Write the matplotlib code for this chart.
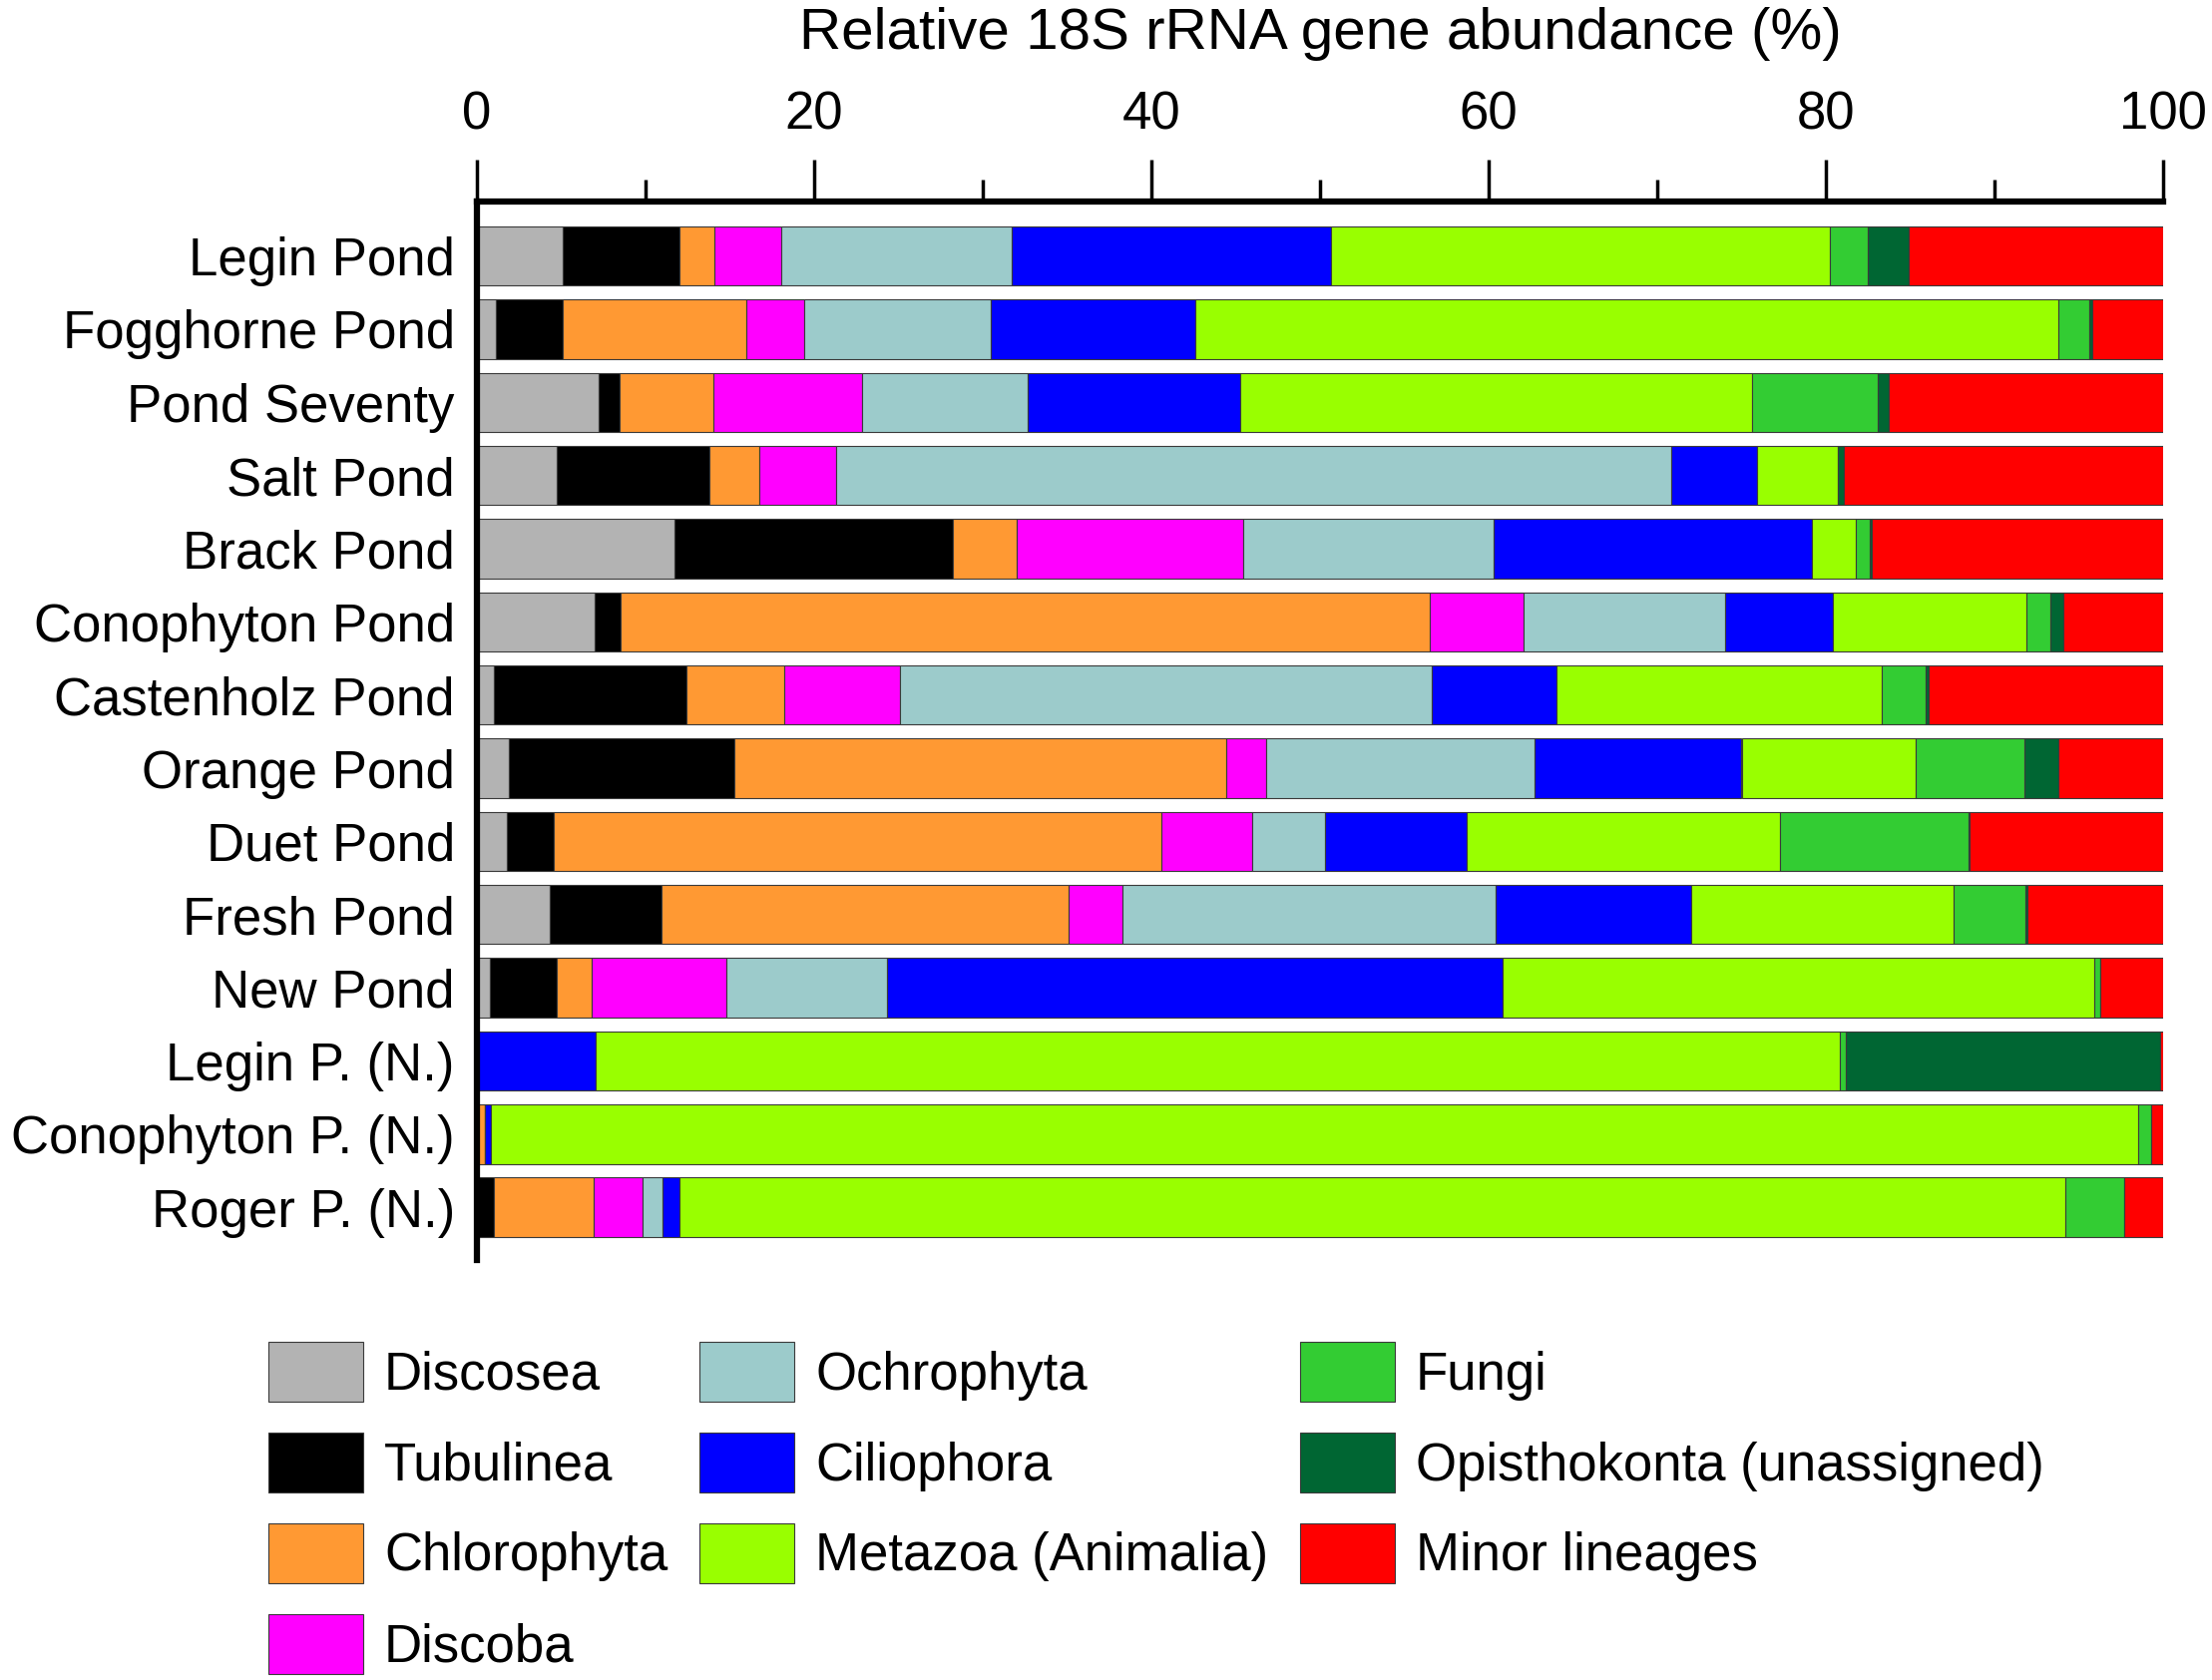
import matplotlib
matplotlib.use("Agg")
import matplotlib.pyplot as plt
import numpy as np

plt.rcParams['font.family'] = ['Liberation Sans', 'DejaVu Sans']

ponds = ["Legin Pond", "Fogghorne Pond", "Pond Seventy", "Salt Pond", "Brack Pond",
         "Conophyton Pond", "Castenholz Pond", "Orange Pond", "Duet Pond", "Fresh Pond",
         "New Pond", "Legin P. (N.)", "Conophyton P. (N.)", "Roger P. (N.)"]

taxa = ["Discosea", "Tubulinea", "Chlorophyta", "Discoba", "Ochrophyta", "Ciliophora",
        "Metazoa (Animalia)", "Fungi", "Opisthokonta (unassigned)", "Minor lineages"]

colors = ["#B3B3B3", "#000000", "#FF9933", "#FF00FF", "#9CCBCB", "#0000FF",
          "#99FF00", "#33CC33", "#006633", "#FF0000"]

# one list per taxon, values in the order of `ponds`
discosea    = [5.10, 1.15, 7.20, 4.75, 11.70, 7.00, 1.00, 1.90, 1.75, 4.30, 0.75, 0.00, 0.00, 0.00]
tubulinea   = [6.90, 3.95, 1.25, 9.05, 16.50, 1.55, 11.40, 13.35, 2.80, 6.65, 4.00, 0.00, 0.00, 1.00]
chlorophyta = [2.10, 10.90, 5.60, 2.95, 3.80, 47.95, 5.80, 29.20, 36.05, 24.15, 2.05, 0.00, 0.50, 5.95]
discoba     = [3.95, 3.40, 8.80, 4.55, 13.45, 5.60, 6.90, 2.35, 5.40, 3.20, 8.00, 0.00, 0.00, 2.85]
ochrophyta  = [13.65, 11.10, 9.80, 49.50, 14.85, 11.95, 31.50, 15.90, 4.30, 22.10, 9.50, 0.00, 0.00, 1.20]
ciliophora  = [18.95, 12.10, 12.60, 5.10, 18.85, 6.35, 7.40, 12.30, 8.40, 11.60, 36.50, 7.05, 0.30, 1.00]
metazoa     = [29.60, 51.20, 30.40, 4.80, 2.65, 11.50, 19.30, 10.30, 18.60, 15.60, 35.10, 73.75, 97.70, 82.20]
fungi       = [2.25, 1.80, 7.45, 0.00, 0.80, 1.40, 2.60, 6.50, 11.15, 4.25, 0.40, 0.40, 0.80, 3.50]
opisthokonta= [2.40, 0.20, 0.60, 0.35, 0.10, 0.80, 0.20, 2.00, 0.10, 0.10, 0.00, 18.60, 0.00, 0.00]
minor       = [15.10, 4.20, 16.30, 18.95, 17.30, 5.90, 13.90, 6.20, 11.45, 8.05, 3.70, 0.20, 0.70, 2.30]

series = [discosea, tubulinea, chlorophyta, discoba, ochrophyta, ciliophora,
          metazoa, fungi, opisthokonta, minor]

W, H = 2217, 1684
fig = plt.figure(figsize=(W / 100, H / 100), dpi=100)
ax = fig.add_axes([478 / W, 1 - 1263 / H, (2168 - 478) / W, (1263 - 202) / H])

y = np.arange(len(ponds))
left = np.zeros(len(ponds))
for name, vals, c in zip(taxa, series, colors):
    vals = np.array(vals)
    ax.barh(y, vals, left=left, height=0.81, color=c, edgecolor="#3a3a3a",
            linewidth=0.8, label=name)
    left += vals

ax.set_xlim(0, 100)
ax.set_ylim(13.72, -0.745)
ax.set_yticks(y)
ax.set_yticklabels(ponds, fontsize=38)
ax.tick_params(axis='y', length=0, pad=16)

ax.xaxis.tick_top()
ax.set_xticks([0, 20, 40, 60, 80, 100])
ax.set_xticks([10, 30, 50, 70, 90], minor=True)
ax.tick_params(axis='x', which='major', length=30, width=2.5, pad=14, labelsize=38)
ax.tick_params(axis='x', which='minor', length=16, width=2.5)

for s in ['right', 'bottom']:
    ax.spines[s].set_visible(False)
for s in ['left', 'top']:
    ax.spines[s].set_linewidth(4.5)

fig.text((478 + 2168) / 2 / W, 1 - 49 / H, "Relative 18S rRNA gene abundance (%)",
         ha='center', va='baseline', fontsize=42)

handles, labels = ax.get_legend_handles_labels()
leg = fig.legend(handles, labels, ncol=3, loc='upper left',
                 bbox_to_anchor=(269 / W, 1 - 1345 / H), frameon=False,
                 fontsize=38, handlelength=1.8, handleheight=1.38,
                 handletextpad=0.4, labelspacing=0.58, columnspacing=0.6,
                 borderpad=0, borderaxespad=0)

fig.savefig("out.png", dpi=100, facecolor="white")
